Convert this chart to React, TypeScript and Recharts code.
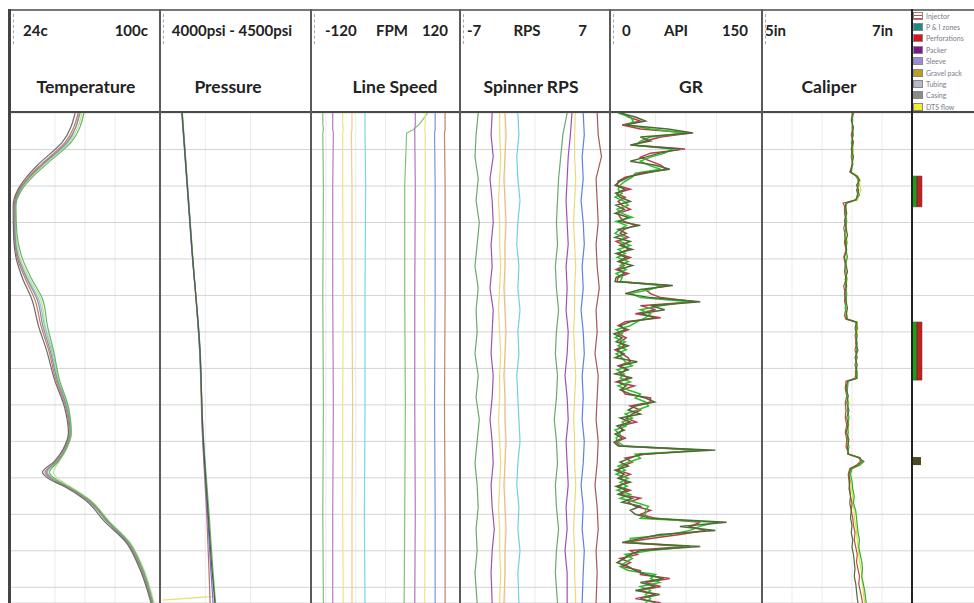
import React from 'react';
import { LineChart, Line, XAxis, YAxis, CartesianGrid, ReferenceArea } from 'recharts';

// ---- depth axis (no labels on the log, only grid every 100) ----
const DEPTH_MAX = 1343;
const DEPTH_GRID = [0, 100, 200, 300, 400, 500, 600, 700, 800, 900, 1000, 1100, 1200, 1300];

// ---- header text ----
const TRACK_TITLES = ['Temperature', 'Pressure', 'Line Speed', 'Spinner RPS', 'GR', 'Caliper'];
const SCALE_LABELS = [
  ['24c', '', '100c'],
  ['', '4000psi - 4500psi', ''],
  ['-120', 'FPM', '120'],
  ['-7', 'RPS', '7'],
  ['0', 'API', '150'],
  ['5in', '', '7in'],
];
const LEGEND_LABELS = ['Injector', 'P & I zones', 'Perforations', 'Packer', 'Sleeve', 'Gravel pack', 'Tubing', 'Casing', 'DTS flow'];
const LEGEND_COLORS = ['#ffffff', '#1f8a86', '#e01020', '#7a1890', '#9a8ae0', '#b8a020', '#b8b8cc', '#8a8a8a', '#f0f030'];

// ---- Temperature (deg C) ----
const TEMP_DEPTH = [0, 80, 140, 175, 210, 255, 330, 395, 455, 510, 585, 650, 730, 810, 875, 920, 955, 985, 1005, 1025, 1060, 1120, 1175, 1240, 1343];
const TEMP_P1 = [59.5, 52.9, 40.7, 34.1, 29.1, 26.5, 26.5, 28.1, 32.6, 37.7, 40.7, 44.3, 47.8, 52.9, 54.4, 51.9, 47.8, 41.7, 45.8, 52.9, 63.0, 73.1, 83.3, 89.9, 96.0];
const TEMP_P2 = [61.5, 55.0, 42.5, 35.5, 30.0, 27.0, 27.5, 30.0, 35.0, 40.5, 43.0, 46.0, 49.0, 53.8, 55.0, 52.5, 48.5, 44.0, 47.5, 54.0, 64.0, 74.0, 84.0, 90.5, 96.5];
const TEMP_P3 = [57.0, 50.5, 38.5, 32.5, 28.0, 25.6, 25.8, 27.0, 30.5, 35.0, 38.5, 42.5, 46.5, 51.8, 53.6, 51.0, 46.5, 40.5, 44.5, 52.0, 62.0, 72.0, 82.5, 89.0, 95.5];
const TEMP_P4 = [60.5, 54.0, 41.5, 34.8, 29.6, 26.8, 27.0, 29.0, 34.0, 39.5, 42.0, 45.5, 48.5, 53.5, 55.2, 52.8, 49.0, 46.0, 49.0, 55.0, 64.5, 74.5, 84.5, 91.0, 97.0];
const TEMP_P5 = [58.5, 52.0, 40.0, 33.5, 28.6, 26.2, 26.2, 27.6, 31.8, 36.5, 39.8, 43.6, 47.2, 52.4, 54.0, 51.4, 47.0, 42.5, 46.0, 53.0, 63.5, 73.5, 83.0, 89.5, 95.8];
const TEMP_P6 = [59.0, 53.5, 41.0, 34.0, 29.0, 26.4, 26.6, 28.4, 33.2, 38.5, 41.5, 45.0, 48.2, 53.2, 54.8, 52.2, 48.0, 43.0, 46.8, 53.5, 63.8, 74.0, 84.0, 90.2, 96.2];

// ---- Pressure (psi) ----
const PRES_DEPTH = [0, 375, 648, 875, 1105, 1250, 1343];
const PRES_P1 = [4073, 4106, 4132, 4142, 4160, 4172, 4182];
const PRES_P2 = [4074, 4107, 4131, 4143, 4163, 4175, 4184];
const PRES_P3 = [4072, 4105, 4133, 4141, 4158, 4168, 4176];
const PRES_P4 = [4073, 4106, 4131, 4140, 4155, 4162, 4166];
const PRES_Y_DEPTH = [0, 375, 648, 875, 1105, 1250, 1325, 1335];
const PRES_P5 = [4074, 4106, 4132, 4142, 4161, 4173, 4180, 4008];

// ---- Line speed (FPM) ----
const LS_DEPTH = [0, 30, 45, 55, 200, 500, 800, 1100, 1343];
const LS_1 = [-101, -101, -100, -101, -100, -101, -100, -101, -100];
const LS_2 = [-85, -85, -85, -84, -85, -85, -84, -85, -85];
const LS_3 = [-69, -69, -68, -69, -69, -68, -69, -69, -68];
const LS_4 = [-54, -54, -54, -55, -54, -54, -53, -54, -54];
const LS_5 = [-33, -33, -33, -33, -32, -33, -33, -34, -33];
const LS_6 = [68, 55, 45, 34, 31, 31, 32, 31, 30];
const LS_7 = [48, 48, 47, 47, 48, 47, 47, 48, 47];
const LS_8 = [64, 64, 63, 64, 64, 63, 64, 64, 63];
const LS_9 = [80, 80, 80, 79, 80, 80, 79, 80, 80];
const LS_10 = [96, 96, 96, 95, 96, 96, 95, 96, 96];

// ---- Spinner (RPS) ----
const SP_DEPTH = [0, 60, 120, 180, 240, 300, 360, 420, 480, 540, 600, 660, 720, 780, 840, 900, 960, 1020, 1080, 1140, 1200, 1260, 1343];
const SP_1 = [-5.3, -5.5, -5.6, -5.3, -5.5, -5.2, -5.4, -5.6, -5.3, -5.5, -5.4, -5.6, -5.3, -5.5, -5.2, -5.4, -5.6, -5.4, -5.3, -5.5, -5.4, -5.6, -5.4];
const SP_2 = [-4.0, -4.1, -3.9, -4.2, -4.0, -3.9, -4.1, -4.0, -4.2, -3.9, -4.0, -4.1, -3.9, -4.0, -4.2, -4.0, -3.9, -4.1, -4.0, -3.8, -4.0, -4.1, -4.0];
const SP_3 = [-3.3, -3.3, -3.2, -3.3, -3.4, -3.3, -3.3, -3.2, -3.3, -3.4, -3.3, -3.2, -3.3, -3.3, -3.4, -3.3, -3.2, -3.3, -3.4, -3.3, -3.3, -3.2, -3.3];
const SP_4 = [-2.8, -2.7, -2.8, -2.9, -2.8, -2.7, -2.8, -2.8, -2.9, -2.8, -2.7, -2.8, -2.9, -2.8, -2.8, -2.7, -2.8, -2.9, -2.8, -2.7, -2.8, -2.8, -2.9];
const SP_5 = [-1.6, -1.5, -1.7, -1.6, -1.4, -1.6, -1.7, -1.5, -1.6, -1.4, -1.6, -1.5, -1.7, -1.6, -1.5, -1.4, -1.6, -1.7, -1.5, -1.6, -1.4, -1.6, -1.5];
const SP_6 = [3.0, 2.6, 2.4, 2.2, 2.1, 2.0, 2.1, 1.9, 2.0, 2.2, 2.0, 1.9, 2.1, 2.0, 1.8, 2.0, 2.1, 1.9, 2.0, 2.2, 2.0, 1.9, 2.1];
const SP_7 = [3.45, 3.3, 3.1, 3.0, 2.9, 3.0, 3.1, 2.9, 3.0, 2.9, 3.1, 3.0, 2.8, 3.0, 3.1, 2.9, 3.0, 3.1, 2.9, 3.0, 2.8, 3.0, 3.0];
const SP_8 = [3.75, 3.7, 3.7, 3.8, 3.7, 3.6, 3.7, 3.8, 3.7, 3.7, 3.6, 3.7, 3.8, 3.7, 3.6, 3.7, 3.7, 3.8, 3.7, 3.6, 3.7, 3.7, 3.8];
const SP_9 = [4.5, 4.6, 4.4, 4.5, 4.3, 4.5, 4.6, 4.4, 4.5, 4.3, 4.5, 4.6, 4.4, 4.5, 4.4, 4.6, 4.5, 4.3, 4.5, 4.4, 4.6, 4.5, 4.4];
const SP_10 = [5.8, 5.9, 6.2, 5.7, 5.8, 5.9, 5.7, 5.8, 6.0, 5.7, 5.8, 5.6, 5.9, 5.8, 5.7, 5.9, 5.8, 5.6, 5.8, 5.9, 5.7, 5.8, 5.7];

// ---- Gamma ray (API) ----
const GR_DEPTH = [0, 11, 22, 33, 44, 55, 66, 77, 88, 99, 110, 121, 132, 143, 154, 165, 176, 187, 198, 209, 220, 231, 242, 253, 264, 275, 286, 297, 308, 319, 330, 341, 352, 363, 374, 385, 396, 407, 418, 429, 440, 451, 462, 473, 484, 495, 506, 517, 528, 539, 550, 561, 572, 583, 594, 605, 616, 627, 638, 649, 660, 671, 682, 693, 704, 715, 726, 737, 748, 759, 770, 781, 792, 803, 814, 825, 836, 847, 858, 869, 880, 891, 902, 913, 924, 935, 946, 957, 968, 979, 990, 1001, 1012, 1023, 1034, 1045, 1056, 1067, 1078, 1089, 1100, 1111, 1122, 1133, 1144, 1155, 1166, 1177, 1188, 1199, 1210, 1221, 1232, 1243, 1254, 1265, 1276, 1287, 1298, 1309, 1320, 1331, 1342];
const GR_A = [10, 25, 35, 15, 57, 82, 30, 40, 20, 69, 49, 35, 20, 45, 59, 30, 18, 10, 5, 15, 6, 10, 20, 6, 14, 5, 18, 9, 30, 8, 16, 5, 20, 10, 22, 6, 16, 8, 22, 9, 14, 6, 5, 62, 30, 15, 40, 89, 40, 54, 30, 45, 20, 10, 15, 4, 12, 6, 18, 7, 14, 5, 27, 10, 18, 5, 22, 8, 16, 10, 20, 35, 44, 25, 18, 30, 10, 20, 7, 14, 5, 12, 4, 8, 104, 30, 20, 10, 18, 5, 14, 8, 20, 6, 16, 8, 22, 12, 30, 20, 25, 40, 115, 69, 104, 49, 30, 12, 89, 30, 20, 14, 7, 18, 25, 35, 53, 30, 45, 25, 49, 30, 45];
const GR_B = [8, 20, 23, 18, 40, 74, 40, 30, 25, 61, 54, 40, 30, 38, 50, 25, 22, 15, 10, 8, 12, 5, 14, 18, 7, 12, 22, 6, 16, 10, 5, 14, 10, 20, 8, 15, 7, 18, 10, 16, 6, 12, 10, 50, 40, 20, 30, 79, 50, 30, 40, 35, 27, 20, 6, 12, 5, 15, 8, 16, 6, 12, 15, 22, 7, 14, 10, 20, 8, 18, 30, 25, 35, 38, 27, 15, 22, 12, 16, 5, 10, 6, 8, 14, 94, 25, 30, 18, 8, 15, 6, 18, 10, 17, 7, 20, 10, 25, 38, 35, 35, 30, 104, 89, 79, 59, 20, 20, 79, 40, 15, 22, 15, 10, 18, 45, 40, 49, 30, 40, 35, 40, 35];
const GR_C = [12, 18, 30, 12, 30, 79, 50, 35, 22, 74, 40, 30, 40, 50, 55, 35, 15, 8, 7, 20, 6, 15, 8, 12, 20, 8, 10, 14, 25, 14, 10, 18, 6, 14, 18, 8, 20, 10, 14, 6, 18, 8, 7, 58, 35, 40, 50, 84, 30, 45, 25, 50, 15, 8, 18, 8, 16, 10, 14, 5, 12, 18, 20, 8, 16, 10, 18, 6, 24, 12, 15, 40, 40, 20, 30, 22, 16, 26, 10, 12, 8, 15, 6, 10, 89, 35, 15, 22, 12, 8, 20, 10, 16, 8, 20, 10, 30, 18, 25, 40, 30, 45, 89, 79, 94, 69, 40, 15, 74, 20, 27, 10, 20, 12, 30, 30, 59, 35, 50, 30, 45, 25, 50];

// ---- Caliper (in) ----
const CAL_DEPTH = [0, 20, 40, 60, 80, 100, 120, 140, 162, 173, 184, 198, 211, 225, 238, 247, 255, 275, 295, 315, 335, 355, 375, 395, 415, 435, 455, 475, 495, 515, 535, 555, 565, 573, 590, 610, 630, 650, 670, 690, 710, 727, 735, 755, 775, 795, 815, 835, 855, 875, 895, 915, 935, 945, 955, 965, 975, 990, 1010, 1030, 1050, 1070, 1090, 1110, 1130, 1150, 1170, 1190, 1210, 1230, 1250, 1270, 1290, 1310, 1330, 1343];
const CAL_A = [6.21, 6.19, 6.22, 6.20, 6.21, 6.19, 6.22, 6.20, 6.18, 6.27, 6.30, 6.26, 6.29, 6.27, 6.26, 6.12, 6.11, 6.13, 6.10, 6.12, 6.14, 6.11, 6.13, 6.10, 6.12, 6.14, 6.11, 6.13, 6.10, 6.12, 6.14, 6.12, 6.13, 6.26, 6.24, 6.27, 6.25, 6.28, 6.24, 6.27, 6.25, 6.26, 6.14, 6.12, 6.15, 6.13, 6.16, 6.13, 6.15, 6.12, 6.16, 6.14, 6.15, 6.30, 6.34, 6.28, 6.18, 6.16, 6.17, 6.16, 6.18, 6.17, 6.19, 6.18, 6.20, 6.19, 6.21, 6.20, 6.22, 6.23, 6.24, 6.23, 6.25, 6.26, 6.27, 6.28];
const CAL_B = [6.20, 6.21, 6.20, 6.22, 6.19, 6.21, 6.20, 6.21, 6.19, 6.25, 6.29, 6.28, 6.27, 6.30, 6.24, 6.13, 6.12, 6.11, 6.13, 6.12, 6.10, 6.13, 6.12, 6.14, 6.11, 6.12, 6.13, 6.11, 6.13, 6.12, 6.11, 6.13, 6.14, 6.27, 6.26, 6.25, 6.27, 6.26, 6.26, 6.25, 6.27, 6.27, 6.15, 6.14, 6.13, 6.15, 6.14, 6.16, 6.14, 6.15, 6.14, 6.16, 6.14, 6.28, 6.36, 6.31, 6.20, 6.18, 6.20, 6.21, 6.23, 6.22, 6.25, 6.26, 6.27, 6.28, 6.30, 6.29, 6.31, 6.33, 6.34, 6.33, 6.35, 6.37, 6.38, 6.39];
const CAL_C = [6.22, 6.20, 6.21, 6.19, 6.22, 6.20, 6.19, 6.21, 6.17, 6.26, 6.28, 6.29, 6.26, 6.28, 6.25, 6.08, 6.10, 6.10, 6.12, 6.09, 6.11, 6.10, 6.12, 6.09, 6.11, 6.10, 6.12, 6.09, 6.11, 6.10, 6.12, 6.10, 6.12, 6.25, 6.27, 6.24, 6.26, 6.24, 6.27, 6.24, 6.26, 6.24, 6.12, 6.11, 6.13, 6.11, 6.12, 6.11, 6.13, 6.11, 6.13, 6.12, 6.16, 6.31, 6.31, 6.26, 6.17, 6.15, 6.16, 6.17, 6.18, 6.20, 6.19, 6.21, 6.22, 6.24, 6.23, 6.25, 6.27, 6.26, 6.28, 6.30, 6.29, 6.31, 6.33, 6.34];
const CAL_D = [6.21, 6.20, 6.21, 6.21, 6.20, 6.22, 6.21, 6.20, 6.19, 6.28, 6.31, 6.30, 6.32, 6.29, 6.28, 6.13, 6.12, 6.12, 6.11, 6.13, 6.12, 6.14, 6.11, 6.13, 6.12, 6.11, 6.14, 6.12, 6.12, 6.13, 6.11, 6.14, 6.13, 6.26, 6.28, 6.26, 6.25, 6.27, 6.25, 6.26, 6.24, 6.25, 6.14, 6.13, 6.14, 6.16, 6.13, 6.15, 6.16, 6.14, 6.15, 6.13, 6.15, 6.29, 6.32, 6.29, 6.19, 6.17, 6.18, 6.19, 6.21, 6.21, 6.23, 6.23, 6.25, 6.26, 6.27, 6.28, 6.29, 6.30, 6.32, 6.33, 6.34, 6.35, 6.36, 6.37];

// ---- completion zones (depth top / bottom) ----
const PERF_ZONES = [[173, 257], [573, 732]];
const GRAVEL_ZONES = [[943, 965]];

// ---- layout ----
const PLOT_TOP = 113;
const PLOT_H = 490;
const EDGES = [10, 160, 311, 460, 610, 762, 912, 974];
const FONT = 'Lato, "Open Sans", sans-serif';

type Series = { depth: number[]; values: number[]; color: string; curve?: 'monotone' | 'linear'; width?: number };

const rows = (depth: number[], values: number[]) => depth.map((d, i) => ({ depth: d, v: values[i] }));
const splitTicks = (lo: number, hi: number) => Array.from({ length: 11 }, (_, i) => lo + ((hi - lo) * i) / 10);

function Track({ left, width, domain, series }: { left: number; width: number; domain: [number, number]; series: Series[] }) {
  return (
    <div style={{ position: 'absolute', left, top: PLOT_TOP, width, height: PLOT_H }}>
      <LineChart width={width} height={PLOT_H} layout="vertical" margin={{ top: 0, right: 0, bottom: 0, left: 0 }}>
        <CartesianGrid horizontal={false} stroke="#ebebeb" />
        <CartesianGrid vertical={false} stroke="#d4d4d4" />
        <XAxis type="number" domain={domain} ticks={splitTicks(domain[0], domain[1])} hide allowDataOverflow />
        <YAxis type="number" dataKey="depth" domain={[0, DEPTH_MAX]} ticks={DEPTH_GRID} hide allowDataOverflow />
        {series.map((s, i) => (
          <Line
            key={i}
            data={rows(s.depth, s.values)}
            dataKey="v"
            type={s.curve || 'linear'}
            stroke={s.color}
            strokeWidth={s.width || 1.2}
            dot={false}
            isAnimationActive={false}
          />
        ))}
      </LineChart>
    </div>
  );
}

const TEMP_SERIES: Series[] = [
  { depth: TEMP_DEPTH, values: TEMP_P4, color: '#c4dc98', curve: 'monotone' },
  { depth: TEMP_DEPTH, values: TEMP_P6, color: '#86c8d6', curve: 'monotone' },
  { depth: TEMP_DEPTH, values: TEMP_P5, color: '#c87a68', curve: 'monotone' },
  { depth: TEMP_DEPTH, values: TEMP_P2, color: '#62b862', curve: 'monotone' },
  { depth: TEMP_DEPTH, values: TEMP_P1, color: '#8e8e8e', curve: 'monotone' },
  { depth: TEMP_DEPTH, values: TEMP_P3, color: '#6c6c6c', curve: 'monotone' },
];
const PRES_SERIES: Series[] = [
  { depth: PRES_Y_DEPTH, values: PRES_P5, color: '#e8e070', curve: 'linear' },
  { depth: PRES_DEPTH, values: PRES_P4, color: '#c06a6a', curve: 'monotone' },
  { depth: PRES_DEPTH, values: PRES_P3, color: '#6a78d0', curve: 'monotone' },
  { depth: PRES_DEPTH, values: PRES_P2, color: '#62c062', curve: 'monotone' },
  { depth: PRES_DEPTH, values: PRES_P1, color: '#555555', curve: 'monotone' },
];
const LS_SERIES: Series[] = [
  { depth: LS_DEPTH, values: LS_1, color: '#7cc47c' },
  { depth: LS_DEPTH, values: LS_2, color: '#b87cc8' },
  { depth: LS_DEPTH, values: LS_3, color: '#ece48a' },
  { depth: LS_DEPTH, values: LS_4, color: '#f0cc88' },
  { depth: LS_DEPTH, values: LS_5, color: '#7cd4e4' },
  { depth: LS_DEPTH, values: LS_6, color: '#7cc47c' },
  { depth: LS_DEPTH, values: LS_7, color: '#b87cc8' },
  { depth: LS_DEPTH, values: LS_8, color: '#ece48a' },
  { depth: LS_DEPTH, values: LS_9, color: '#7c94e0' },
  { depth: LS_DEPTH, values: LS_10, color: '#c4806e' },
];
const SP_SERIES: Series[] = [
  { depth: SP_DEPTH, values: SP_1, color: '#6aaa6a' },
  { depth: SP_DEPTH, values: SP_2, color: '#a050b4' },
  { depth: SP_DEPTH, values: SP_3, color: '#e8dc78' },
  { depth: SP_DEPTH, values: SP_4, color: '#f0bc78' },
  { depth: SP_DEPTH, values: SP_5, color: '#70d0e0' },
  { depth: SP_DEPTH, values: SP_6, color: '#6aaa6a' },
  { depth: SP_DEPTH, values: SP_7, color: '#a050b4' },
  { depth: SP_DEPTH, values: SP_8, color: '#e8dc78' },
  { depth: SP_DEPTH, values: SP_9, color: '#6080e0' },
  { depth: SP_DEPTH, values: SP_10, color: '#a85656' },
];
const GR_SERIES: Series[] = [
  { depth: GR_DEPTH, values: GR_C, color: '#b83c50', width: 1.5 },
  { depth: GR_DEPTH, values: GR_B, color: '#2cc02c', width: 1.5 },
  { depth: GR_DEPTH, values: GR_A, color: '#4e6a34', width: 1.5 },
];
const CAL_SERIES: Series[] = [
  { depth: CAL_DEPTH, values: CAL_D, color: '#dede40' },
  { depth: CAL_DEPTH, values: CAL_C, color: '#b85040' },
  { depth: CAL_DEPTH, values: CAL_B, color: '#30b030' },
  { depth: CAL_DEPTH, values: CAL_A, color: '#56683a' },
];

// header label placement: [x, align] for left / centre / right slots of each track
const SCALE_POS: [number, 'left' | 'center' | 'right'][][] = [
  [[23, 'left'], [0, 'center'], [148, 'right']],
  [[0, 'left'], [232, 'center'], [0, 'right']],
  [[325, 'left'], [392, 'center'], [448, 'right']],
  [[467, 'left'], [527, 'center'], [587, 'right']],
  [[622, 'left'], [676, 'center'], [748, 'right']],
  [[765, 'left'], [0, 'center'], [893, 'right']],
];
const TITLE_X = [86, 228, 395, 531, 691, 829];

function HeaderText({ text, x, align, y, size }: { text: string; x: number; align: 'left' | 'center' | 'right'; y: number; size: number }) {
  const w = 200;
  const left = align === 'left' ? x : align === 'right' ? x - w : x - w / 2;
  return (
    <div style={{ position: 'absolute', left, top: y - size * 0.65, width: w, textAlign: align, fontFamily: FONT, fontWeight: 700, fontSize: size, lineHeight: `${size * 1.3}px`, color: '#222', whiteSpace: 'nowrap' }}>
      {text}
    </div>
  );
}

const line = (left: number, top: number, width: number, height: number, bg: string) => (
  <div style={{ position: 'absolute', left, top, width, height, background: bg }} />
);

export default function App() {
  return (
    <div style={{ position: 'absolute', left: 0, top: 0, width: 974, height: 603, background: '#fff', overflow: 'hidden' }}>
      <Track left={EDGES[0]} width={EDGES[1] - EDGES[0]} domain={[24, 100]} series={TEMP_SERIES} />
      <Track left={EDGES[1]} width={EDGES[2] - EDGES[1]} domain={[4000, 4500]} series={PRES_SERIES} />
      <Track left={EDGES[2]} width={EDGES[3] - EDGES[2]} domain={[-120, 120]} series={LS_SERIES} />
      <Track left={EDGES[3]} width={EDGES[4] - EDGES[3]} domain={[-7, 7]} series={SP_SERIES} />
      <Track left={EDGES[4]} width={EDGES[5] - EDGES[4]} domain={[0, 150]} series={GR_SERIES} />
      <Track left={EDGES[5]} width={EDGES[6] - EDGES[5]} domain={[5, 7]} series={CAL_SERIES} />
      <div style={{ position: 'absolute', left: EDGES[6], top: PLOT_TOP, width: EDGES[7] - EDGES[6], height: PLOT_H }}>
        <LineChart width={EDGES[7] - EDGES[6]} height={PLOT_H} layout="vertical" margin={{ top: 0, right: 0, bottom: 0, left: 0 }}>
          <CartesianGrid vertical={false} stroke="#d8d8d8" />
          <XAxis type="number" domain={[0, 10]} hide allowDataOverflow />
          <YAxis type="number" dataKey="depth" domain={[0, DEPTH_MAX]} ticks={DEPTH_GRID} hide allowDataOverflow />
          {PERF_ZONES.map(([a, b], i) => (
            <ReferenceArea key={`g${i}`} x1={0} x2={0.8} y1={a} y2={b} fill="#1ca01c" fillOpacity={1} stroke="#2a4a2a" strokeWidth={0.6} ifOverflow="visible" />
          ))}
          {PERF_ZONES.map(([a, b], i) => (
            <ReferenceArea key={`r${i}`} x1={0.8} x2={1.6} y1={a} y2={b} fill="#c02020" fillOpacity={1} stroke="#6a2020" strokeWidth={0.6} ifOverflow="visible" />
          ))}
          {GRAVEL_ZONES.map(([a, b], i) => (
            <ReferenceArea key={`o${i}`} x1={0} x2={1.45} y1={a} y2={b} fill="#4a4a24" fillOpacity={1} ifOverflow="visible" />
          ))}
        </LineChart>
      </div>

      {/* frame */}
      {line(8, 9, 966, 2, '#777')}
      {line(8, 111, 966, 2, '#4a4a4a')}
      {line(8, 9, 3, 594, '#444')}
      {EDGES.slice(1, 6).map((x) => <React.Fragment key={x}>{line(x - 1, 9, 2, 594, '#5a5a5a')}</React.Fragment>)}
      {line(EDGES[6] - 1, 9, 2, 594, '#222')}
      {EDGES.slice(0, 6).map((x) => (
        <div key={`t${x}`} style={{ position: 'absolute', left: x + 3, top: 14, width: 0, height: 30, borderLeft: '1px dashed #aaa' }} />
      ))}

      {/* header */}
      {SCALE_LABELS.map((labels, t) =>
        labels.map((txt, k) => (txt ? <HeaderText key={`${t}-${k}`} text={txt} x={SCALE_POS[t][k][0]} align={SCALE_POS[t][k][1]} y={31} size={15} /> : null))
      )}
      {TRACK_TITLES.map((txt, t) => (
        <HeaderText key={txt} text={txt} x={TITLE_X[t]} align="center" y={87} size={17.5} />
      ))}

      {/* legend */}
      {LEGEND_LABELS.map((lab, i) => (
        <div key={lab} style={{ position: 'absolute', left: 913, top: 11 + i * 11.4, height: 9, display: 'flex', alignItems: 'center' }}>
          <div
            style={{
              width: 10,
              height: 8,
              background: i === 0 ? 'repeating-linear-gradient(0deg, #e04040 0 1.5px, #fff 1.5px 3px)' : LEGEND_COLORS[i],
              border: '0.5px solid #888',
              boxSizing: 'border-box',
            }}
          />
          <span style={{ marginLeft: 3, fontFamily: FONT, fontSize: 7, color: '#7a7a8a', whiteSpace: 'nowrap' }}>{lab}</span>
        </div>
      ))}
    </div>
  );
}
